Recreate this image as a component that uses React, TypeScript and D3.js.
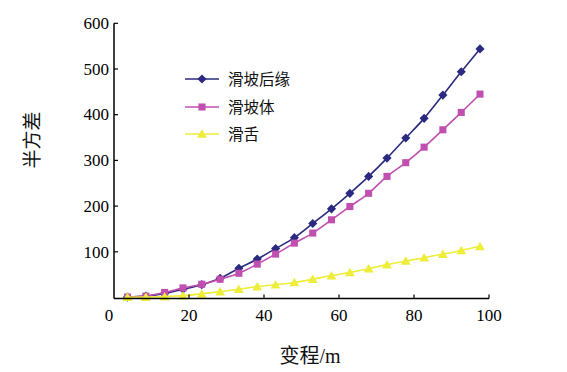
import React from "react";
import * as d3 from "d3";

const lags = [3.6, 8.5, 13.5, 18.4, 23.4, 28.3, 33.3, 38.2, 43.1, 48.1, 53.0, 58.0, 62.9, 67.9, 72.8, 77.8, 82.7, 87.7, 92.6, 97.6];
const rearEdge = [1, 3, 9, 18, 28, 42, 64, 84, 107, 131, 162, 194, 228, 265, 305, 349, 392, 443, 494, 544];
const slideBody = [1, 3, 11, 21, 29, 40, 53, 73, 95, 119, 141, 170, 199, 228, 265, 295, 329, 367, 405, 445];
const tongue = [0.5, 1, 2, 4, 8, 13, 18, 24, 28, 33, 40, 48, 55, 63, 72, 80, 87, 95, 103, 112];
const seriesNames = ["滑坡后缘", "滑坡体", "滑舌"];
const xTicks = [0, 20, 40, 60, 80, 100];
const yTicks = [100, 200, 300, 400, 500, 600];

const colors = ["#2b2a80", "#c04fb0", "#eded3a"];
const shapes = [d3.symbolSquare, d3.symbolSquare, d3.symbolTriangle];
const sizes = [42, 50, 42];
const rotations = [45, 0, 0];

export default function App() {
  const W = 567, H = 372;
  const x = d3.scaleLinear().domain([0, 100]).range([114, 489]);
  const y = d3.scaleLinear().domain([0, 600]).range([297.5, 23.3]);
  const data = [rearEdge, slideBody, tongue];
  const line = d3.line<number>().x((_, i) => x(lags[i])).y((d) => y(d)).curve(d3.curveMonotoneX);
  const sym = (k: number) => d3.symbol().type(shapes[k]).size(sizes[k])() as string;
  const tickFont = "'Liberation Serif', 'Times New Roman', serif";
  const cjkFont = "'Noto Sans CJK SC', sans-serif";
  const legendY = [79, 107, 134];
  return (
    <svg width={W} height={H} style={{ position: "absolute", left: 0, top: 0, background: "#fff" }}>
      {/* series */}
      {data.map((vals, k) => (
        <g key={k}>
          <path d={line(vals) as string} fill="none" stroke={colors[k]} strokeWidth={1.6} />
          {vals.map((v, i) => (
            <path key={i} d={sym(k)} transform={`translate(${x(lags[i])},${y(v) + (k === 2 ? 1 : 0)}) rotate(${rotations[k]})`} fill={colors[k]} />
          ))}
        </g>
      ))}
      {/* axes */}
      <line x1={x(0)} x2={x(0)} y1={y(600)} y2={298.5} stroke="#000" strokeWidth={1.5} />
      <line x1={x(0)} x2={x(100)} y1={298.5} y2={298.5} stroke="#000" strokeWidth={1.5} />
      {yTicks.map((t) => (
        <g key={t}>
          <line x1={x(0)} x2={x(0) + 4} y1={y(t)} y2={y(t)} stroke="#000" strokeWidth={1.2} />
          <text x={109} y={y(t)} dy="0.34em" textAnchor="end" fontFamily={tickFont} fontSize={17} fill="#000">{t}</text>
        </g>
      ))}
      {xTicks.map((t) => (
        <g key={t}>
          {t > 0 && <line x1={x(t)} x2={x(t)} y1={298.5} y2={294.5} stroke="#000" strokeWidth={1.2} />}
          <text x={x(t) - (t === 0 ? 5 : 0)} y={320.5} textAnchor="middle" fontFamily={tickFont} fontSize={17} fill="#000">{t}</text>
        </g>
      ))}
      {/* axis titles */}
      <text transform="translate(38.5,140) rotate(-90)" textAnchor="middle" fontFamily={cjkFont} fontSize={19} fill="#111">半方差</text>
      <text x={310} y={363} textAnchor="middle" fontSize={20} fill="#111">
        <tspan fontFamily={cjkFont}>变程</tspan>
        <tspan fontFamily={tickFont}>/m</tspan>
      </text>
      {/* legend */}
      {seriesNames.map((n, k) => (
        <g key={n}>
          <line x1={185} x2={219} y1={legendY[k]} y2={legendY[k]} stroke={colors[k]} strokeWidth={1.6} />
          <path d={sym(k)} transform={`translate(202,${legendY[k] + (k === 2 ? 1 : 0)}) rotate(${rotations[k]})`} fill={colors[k]} />
          <text x={228} y={legendY[k]} dy="0.36em" fontFamily={cjkFont} fontSize={15.5} fill="#111">{n}</text>
        </g>
      ))}
    </svg>
  );
}
